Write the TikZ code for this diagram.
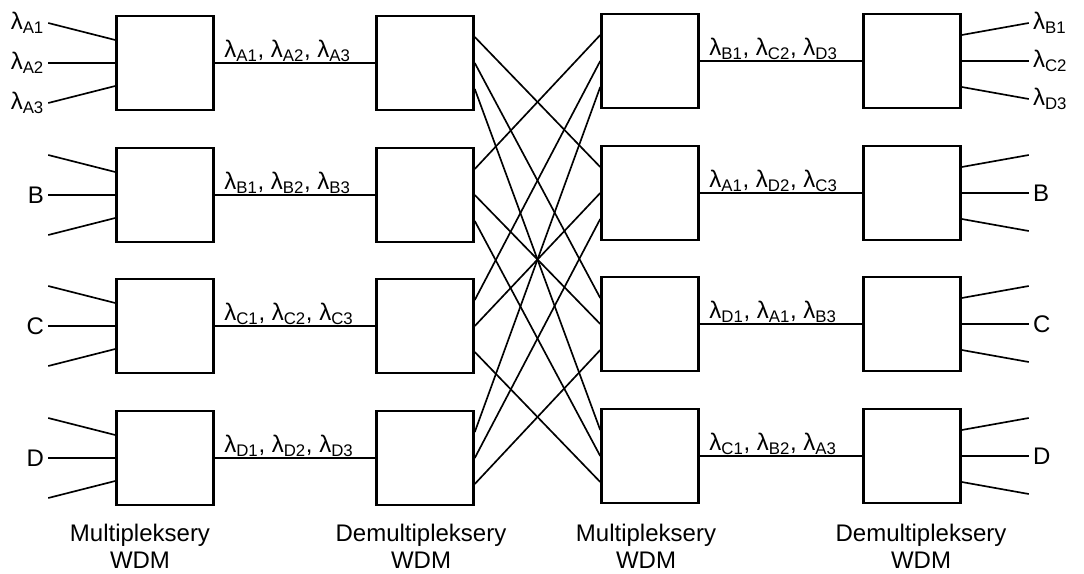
\documentclass[tikz,border=0pt]{standalone}
\usepackage{fontspec}
\setmainfont{Liberation Sans}
\usetikzlibrary{calc}
\tikzset{
  wdm/.style={draw, line width=1.9pt, minimum width=72.75pt, minimum height=70.5pt, inner sep=0pt},
  fibre/.style={line width=1.25pt},
  lbl/.style={font=\fontsize{18}{20}\selectfont, inner sep=1pt},
  end/.style={lbl, inner sep=3pt},
}
\newcommand{\lam}[1]{λ\textsubscript{#1}}

\begin{document}
\begin{tikzpicture}[x=0.75pt,y=0.75pt,yscale=-1,xscale=1]
\useasboundingbox (0,0) rectangle (1084,574);
%Shapes: Rectangles, multiplexers and demultiplexers
\foreach \r/\y in {A/63,B/195,C/326,D/458}{
  \node[wdm] (mux\r) at (165,\y) {};
  \node[wdm] (dem\r) at (425,\y) {};
}
\foreach \r/\y in {1/61,2/193,3/324,4/456}{
  \node[wdm] (mx\r) at (650,\y) {};
  \node[wdm] (out\r) at (912,\y) {};
}
%Ports on the box sides
\foreach \n in {muxA,muxB,muxC,muxD}{
  \foreach \k/\d in {1/-23,2/0,3/23}
    \coordinate (\n-\k) at ($(\n.west)+(0,\d)$);
}
\foreach \n in {mx1,mx2,mx3,mx4}{
  \foreach \k/\d in {1/-26,2/0,3/26}
    \coordinate (\n-\k) at ($(\n.west)+(0,\d)$);
}
\foreach \n in {demA,demB,demC,demD}{
  \foreach \k/\d in {1/-26,2/0,3/26}
    \coordinate (\n-\k) at ($(\n.east)+(0,\d)$);
}
\foreach \n in {out1,out2,out3,out4}{
  \foreach \k/\d in {1/-26,2/0,3/26}
    \coordinate (\n-\k) at ($(\n.east)+(0,\d)$);
}
%Straight Lines: inputs
\foreach \r in {A,B,C,D}{
  \foreach \k/\d in {1/-40,2/0,3/40}{
    \coordinate (in\r-\k) at ($(mux\r.west)+(-67,\d)$);
    \draw[fibre] (in\r-\k) -- (mux\r-\k);
  }
}
%Straight Lines: outputs
\foreach \r in {1,2,3,4}{
  \foreach \k/\d in {1/-38,2/0,3/38}{
    \coordinate (rx\r-\k) at ($(out\r.east)+(67,\d)$);
    \draw[fibre] (out\r-\k) -- (rx\r-\k);
  }
}
%Straight Lines: links
\foreach \r in {A,B,C,D}
  \draw[fibre] (mux\r) -- (dem\r);
\foreach \r in {1,2,3,4}
  \draw[fibre] (mx\r) -- (out\r);
%Straight Lines: crossing
\foreach \a/\b in {A-1/mx2-1,A-2/mx3-1,A-3/mx4-1,B-1/mx1-1,B-2/mx3-2,B-3/mx4-2,
                   C-1/mx1-2,C-2/mx2-2,C-3/mx4-3,D-1/mx1-3,D-2/mx2-3,D-3/mx3-3}
  \draw[fibre] (dem\a) -- (\b);
% Text Node
\node[end, anchor=east] (tA1) at (inA-1) {\lam{A1}};
\node[end, anchor=east] (tA2) at (inA-2) {\lam{A2}};
\node[end, anchor=east] (tA3) at (inA-3) {\lam{A3}};
\node[end, anchor=east] (tB) at (inB-2) {B};
\node[end, anchor=east] (tC) at (inC-2) {C};
\node[end, anchor=east] (tD) at (inD-2) {D};
% Text Node
\node[end, anchor=west] (t1B) at (rx1-1) {\lam{B1}};
\node[end, anchor=west] (t1C) at (rx1-2) {\lam{C2}};
\node[end, anchor=west] (t1D) at (rx1-3) {\lam{D3}};
\node[end, anchor=west] (t2) at (rx2-2) {B};
\node[end, anchor=west] (t3) at (rx3-2) {C};
\node[end, anchor=west] (t4) at (rx4-2) {D};
% Text Node
\node[lbl, anchor=south west] (lkA) at ($(muxA.east)+(8,0)$) {\lam{A1}, \lam{A2}, \lam{A3}};
\node[lbl, anchor=south west] (lkB) at ($(muxB.east)+(8,0)$) {\lam{B1}, \lam{B2}, \lam{B3}};
\node[lbl, anchor=south west] (lkC) at ($(muxC.east)+(8,0)$) {\lam{C1}, \lam{C2}, \lam{C3}};
\node[lbl, anchor=south west] (lkD) at ($(muxD.east)+(8,0)$) {\lam{D1}, \lam{D2}, \lam{D3}};
\node[lbl, anchor=south west] (lk1) at ($(mx1.east)+(8,0)$) {\lam{B1}, \lam{C2}, \lam{D3}};
\node[lbl, anchor=south west] (lk2) at ($(mx2.east)+(8,0)$) {\lam{A1}, \lam{D2}, \lam{C3}};
\node[lbl, anchor=south west] (lk3) at ($(mx3.east)+(8,0)$) {\lam{D1}, \lam{A1}, \lam{B3}};
\node[lbl, anchor=south west] (lk4) at ($(mx4.east)+(8,0)$) {\lam{C1}, \lam{B2}, \lam{A3}};
% Text Node
\node[lbl, align=center] (cap1) at (140,546) {Multipleksery\\WDM};
\node[lbl, align=center] (cap2) at (421,546) {Demultipleksery\\WDM};
\node[lbl, align=center] (cap3) at (646,546) {Multipleksery\\WDM};
\node[lbl, align=center] (cap4) at (921,546) {Demultipleksery\\WDM};
\end{tikzpicture}
\end{document}
